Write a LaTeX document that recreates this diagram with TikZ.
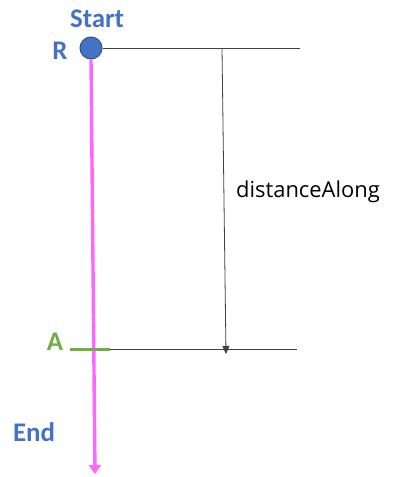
\documentclass[tikz,border=0pt]{standalone}
\usepackage{fontspec}
\setmainfont{Carlito}
\newfontfamily\segoe{Open Sans}
\usetikzlibrary{arrows.meta}
\definecolor{offblue}{HTML}{4472C4}
\definecolor{darkblue}{HTML}{2F528F}
\definecolor{pinkline}{HTML}{FF66FF}
\definecolor{offgreen}{HTML}{70AD47}
\begin{document}
\begin{tikzpicture}[x=1bp,y=-1bp,
  lbl/.style={font=\bfseries\fontsize{27}{31}\selectfont, inner sep=0pt},
  dim/.style={draw=black!75, line width=0.8bp}]
\useasboundingbox (0,0) rectangle (411,477);
\node[circle, fill=offblue, draw=darkblue, line width=1bp, minimum size=22bp, inner sep=0pt] (R) at (91,48) {};
\node[lbl, text=offblue] (start) at (97,19) {Start};
\node[lbl, text=offblue] (rl) at (60,51) {R};
\node[lbl, text=offblue] (end) at (34,432) {End};
\node[lbl, text=offgreen] (al) at (55,342) {A};
\node[inner sep=0pt, font=\segoe\fontsize{22}{26}\selectfont] (dl) at (308,192) {distanceAlong};
\coordinate (top1) at (300,48);
\coordinate (bot0) at (100,349);
\coordinate (bot1) at (297,349);
\coordinate (vtop) at (222,48);
\coordinate (vbot) at (226,354);
\coordinate (pend) at (95,474);
\coordinate (ga) at (70,349);
\coordinate (gb) at (110,349);
\draw[dim] (R.east) -- (top1);
\draw[dim] (bot0) -- (bot1);
\draw[dim, -{Triangle[length=8bp,width=7bp]}] (vtop) -- (vbot);
\draw[pinkline, line width=3.4bp, -{Triangle[length=9bp,width=12bp]}] (R.south) -- (pend);
\draw[offgreen, line width=3bp] (ga) -- (gb);
\end{tikzpicture}
\end{document}
